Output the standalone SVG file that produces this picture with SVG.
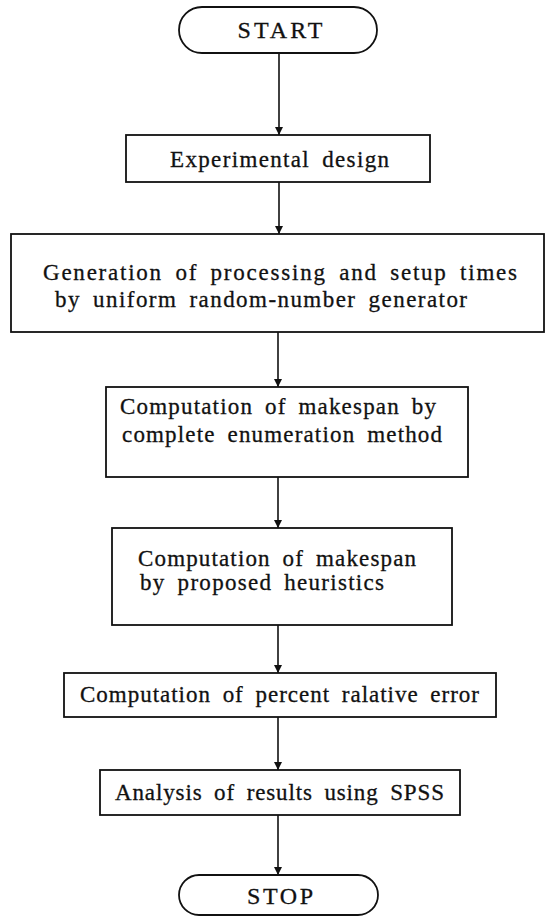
<svg xmlns="http://www.w3.org/2000/svg" width="550" height="917" viewBox="0 0 550 917">
<style>
.box{fill:#fff;stroke:#111;stroke-width:1.8}
.t{font-family:"Liberation Serif","Times New Roman",serif;font-size:23px;fill:#111;text-anchor:middle;letter-spacing:1px;word-spacing:5px;stroke:#111;stroke-width:0.3}
.tl{font-family:"Liberation Serif","Times New Roman",serif;font-size:23px;fill:#111;letter-spacing:1px;word-spacing:5px;stroke:#111;stroke-width:0.3}
.term{font-family:"Liberation Serif","Times New Roman",serif;font-size:24px;fill:#111;text-anchor:middle;stroke:#111;stroke-width:0.3}
.c{stroke:#111;stroke-width:1.6;fill:none;marker-end:url(#ah)}
</style>
<defs>
<marker id="ah" markerWidth="10" markerHeight="10" refX="8" refY="4" orient="auto" markerUnits="userSpaceOnUse">
<path d="M0,0 L8,4 L0,8 z" fill="#111"/>
</marker>
</defs>
<rect width="550" height="917" fill="#fff"/>
<g id="connectors">
<line class="c" x1="279" y1="53" x2="279" y2="135"/>
<line class="c" x1="279" y1="182" x2="279" y2="234"/>
<line class="c" x1="278" y1="332" x2="278" y2="387"/>
<line class="c" x1="278" y1="477" x2="278" y2="528"/>
<line class="c" x1="278" y1="625" x2="278" y2="673"/>
<line class="c" x1="278" y1="717" x2="278" y2="770"/>
<line class="c" x1="278" y1="815" x2="278" y2="875"/>
</g>
<g id="start">
<rect class="box" x="179" y="7" width="198" height="46" rx="23"/>
<text class="term" x="280" y="38" textLength="85" lengthAdjust="spacing">START</text>
</g>
<g id="design">
<rect class="box" x="126" y="135" width="304" height="47"/>
<text class="t" x="280" y="167" textLength="220" lengthAdjust="spacing">Experimental design</text>
</g>
<g id="generation">
<rect class="box" x="11" y="234" width="533" height="98"/>
<text class="tl" x="43" y="280" textLength="475" lengthAdjust="spacing">Generation of processing and setup times</text>
<text class="tl" x="55" y="307" textLength="413" lengthAdjust="spacing">by uniform random-number generator</text>
</g>
<g id="enumeration">
<rect class="box" x="106" y="387" width="362" height="90"/>
<text class="tl" x="120" y="414" textLength="317" lengthAdjust="spacing">Computation of makespan by</text>
<text class="tl" x="122" y="442" textLength="321" lengthAdjust="spacing">complete enumeration method</text>
</g>
<g id="heuristics">
<rect class="box" x="112" y="528" width="340" height="97"/>
<text class="tl" x="138" y="566" textLength="279" lengthAdjust="spacing">Computation of makespan</text>
<text class="tl" x="140" y="590" textLength="245" lengthAdjust="spacing">by proposed heuristics</text>
</g>
<g id="percent">
<rect class="box" x="64" y="673" width="432" height="44"/>
<text class="t" x="280" y="702" textLength="400" lengthAdjust="spacing">Computation of percent ralative error</text>
</g>
<g id="analysis">
<rect class="box" x="100" y="770" width="360" height="45"/>
<text class="t" x="280" y="800" textLength="330" lengthAdjust="spacing">Analysis of results using SPSS</text>
</g>
<g id="stop">
<rect class="box" x="179" y="875" width="199" height="40" rx="20"/>
<text class="term" x="280" y="904" textLength="66" lengthAdjust="spacing">STOP</text>
</g>
</svg>
